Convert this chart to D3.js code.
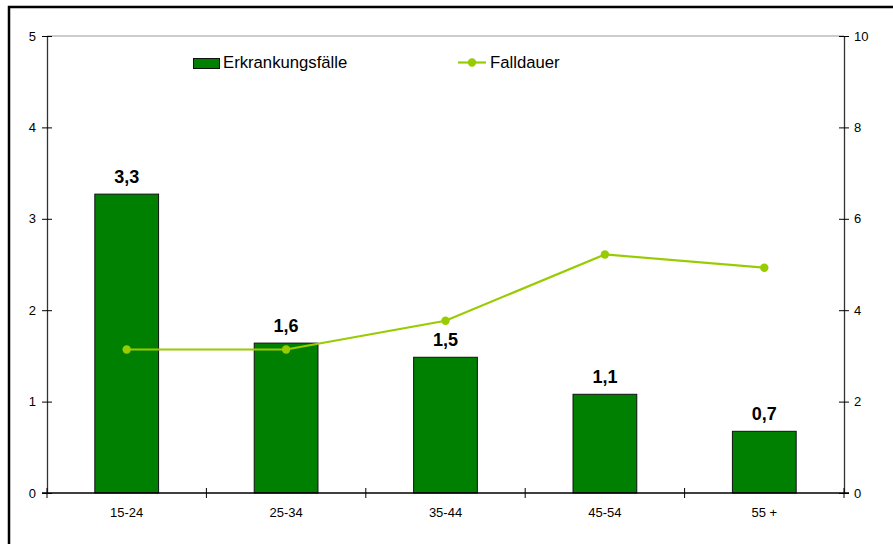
<!DOCTYPE html>
<html><head><meta charset="utf-8">
<script src="https://cdn.jsdelivr.net/npm/d3@7"></script>
<style>body{margin:0;background:#fff}svg{display:block;font-family:Arial,"Liberation Sans",sans-serif}</style>
</head><body>
<svg id="c" width="893" height="544"></svg>
<script>
const categories = ["15-24","25-34","35-44","45-54","55 +"];
const erkrankungsfaelle = [3.27, 1.64, 1.485, 1.08, 0.675];
const barLabels = ["3,3","1,6","1,5","1,1","0,7"];
const falldauer = [3.14, 3.14, 3.77, 5.22, 4.93];
const leftTicks = [0,1,2,3,4,5];
const rightTicks = [0,2,4,6,8,10];
const seriesNames = ["Erkrankungsfälle","Falldauer"];

const svg = d3.select("#c");
const L = 47, R = 844, T = 36, B = 493;
const FONT = "Arial,'Liberation Sans',sans-serif";

// outer border
svg.append("rect").attr("x",9).attr("y",7).attr("width",900).attr("height",560)
  .attr("fill","none").attr("stroke","#000").attr("stroke-width",2.5);

const x = d3.scaleBand().domain(categories).range([L,R]).paddingInner(0.6).paddingOuter(0.3);
const xb = d3.scaleBand().domain(categories).range([L,R]);
const yL = d3.scaleLinear().domain([0,5]).range([B,T]);
const yR = d3.scaleLinear().domain([0,10]).range([B,T]);

// top plot border (gray)
svg.append("line").attr("x1",L).attr("x2",R).attr("y1",yL(5)).attr("y2",yL(5))
  .attr("stroke","#999").attr("stroke-width",1);

// bars
svg.selectAll("rect.bar").data(categories).enter().append("rect").attr("class","bar")
  .attr("x",d=>x(d)).attr("width",x.bandwidth())
  .attr("y",(d,i)=>yL(erkrankungsfaelle[i])).attr("height",(d,i)=>B-yL(erkrankungsfaelle[i]))
  .attr("fill","#008000").attr("stroke","#111").attr("stroke-width",1);

// bar labels
svg.selectAll("text.bl").data(categories).enter().append("text").attr("class","bl")
  .attr("x",d=>x(d)+x.bandwidth()/2).attr("y",(d,i)=>yL(erkrankungsfaelle[i])-11)
  .attr("text-anchor","middle").attr("font-weight","bold").attr("font-size",18)
  .text((d,i)=>barLabels[i]);

// axes
const axL = d3.axisLeft(yL).tickValues(leftTicks).tickSize(0).tickPadding(11).tickFormat(d3.format("d"));
const gL = svg.append("g").attr("transform",`translate(${L},0)`).call(axL);
const axR = d3.axisRight(yR).tickValues(rightTicks).tickSize(0).tickPadding(10).tickFormat(d3.format("d"));
const gR = svg.append("g").attr("transform",`translate(${R},0)`).call(axR);
[gL,gR].forEach(g=>{
  g.attr("font-size",13).attr("font-family",FONT);
  g.select(".domain").attr("stroke","#333").attr("stroke-width",1.3);
  g.selectAll(".tick text").attr("fill","#000");
  g.selectAll(".tick").append("line").attr("x1",-5).attr("x2",5).attr("stroke","#000");
});

// bottom axis
svg.append("line").attr("x1",L-5).attr("x2",R+5).attr("y1",B).attr("y2",B).attr("stroke","#000").attr("stroke-width",1.3);
const bounds = categories.map(c=>xb(c)).concat([R]);
svg.selectAll("line.bt").data(bounds).enter().append("line").attr("class","bt")
  .attr("x1",d=>d).attr("x2",d=>d).attr("y1",B-5).attr("y2",B+5).attr("stroke","#000");
svg.selectAll("text.cat").data(categories).enter().append("text").attr("class","cat")
  .attr("x",d=>xb(d)+xb.bandwidth()/2).attr("y",B+24).attr("text-anchor","middle")
  .attr("font-size",13).text(d=>d);

// line
const cx = (d)=>xb(d)+xb.bandwidth()/2;
const line = d3.line().x((d,i)=>cx(categories[i])).y(d=>yR(d));
svg.append("path").datum(falldauer).attr("d",line).attr("fill","none")
  .attr("stroke","#99cc00").attr("stroke-width",2.2);
svg.selectAll("circle.pt").data(falldauer).enter().append("circle").attr("class","pt")
  .attr("cx",(d,i)=>cx(categories[i])).attr("cy",d=>yR(d)).attr("r",4.2).attr("fill","#99cc00");

// legend
const lg = svg.append("g");
lg.append("rect").attr("x",193.5).attr("y",58.5).attr("width",26).attr("height",10)
  .attr("fill","#008000").attr("stroke","#111");
lg.append("text").attr("x",223).attr("y",68).attr("font-size",16.7).text(seriesNames[0]);
lg.append("line").attr("x1",458).attr("x2",486).attr("y1",62.5).attr("y2",62.5)
  .attr("stroke","#99cc00").attr("stroke-width",2.2);
lg.append("circle").attr("cx",472).attr("cy",62.5).attr("r",4.2).attr("fill","#99cc00");
lg.append("text").attr("x",490).attr("y",68).attr("font-size",16.7).text(seriesNames[1]);
</script>
</body></html>
